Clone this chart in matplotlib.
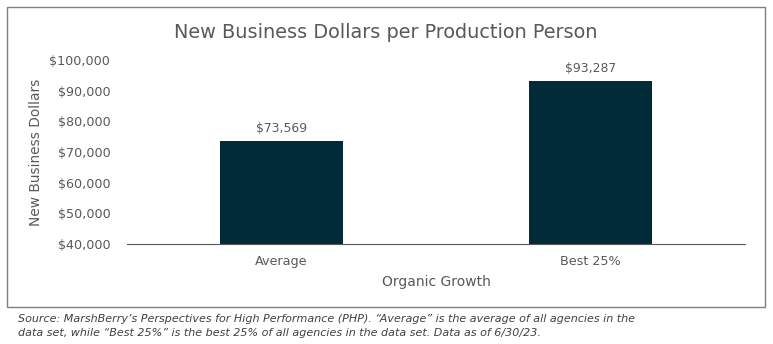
import matplotlib.pyplot as plt
import matplotlib.ticker as mticker
from matplotlib.patches import Rectangle

categories = ["Average", "Best 25%"]
values = [73569, 93287]
y_ticks = [40000, 50000, 60000, 70000, 80000, 90000, 100000]

title = "New Business Dollars per Production Person"
source_note = (
    "Source: MarshBerry\u2019s Perspectives for High Performance (PHP). \u201cAverage\u201d is the average of all agencies in the\n"
    "data set, while \u201cBest 25%\u201d is the best 25% of all agencies in the data set. Data as of 6/30/23."
)

bar_color = "#022b3a"
text_color = "#595959"

W, H = 773, 344
fig = plt.figure(figsize=(W / 100, H / 100), dpi=100)
plt.rcParams["font.family"] = ["DejaVu Sans"]

ax = fig.add_axes([127 / W, 1 - 244 / H, (745 - 127) / W, (244 - 60) / H])

x = list(range(len(categories)))
rects = ax.bar(x, values, width=0.4, color=bar_color, zorder=2)
ax.bar_label(rects, labels=[f"${v:,.0f}" for v in values], padding=4,
             fontsize=8.9, color=text_color)

ax.set_xlim(-0.5, len(categories) - 0.5)
ax.set_ylim(y_ticks[0], y_ticks[-1])
ax.set_yticks(y_ticks)
ax.yaxis.set_major_formatter(mticker.FuncFormatter(lambda v, p: f"${v:,.0f}"))
ax.set_xticks(x, categories)

for s in ["top", "right", "left"]:
    ax.spines[s].set_visible(False)
ax.spines["bottom"].set_color("#595959")
ax.tick_params(axis="both", length=0, labelsize=9.2, colors=text_color)
ax.tick_params(axis="x", pad=8)
ax.tick_params(axis="y", pad=12)

ax.set_xlabel("Organic Growth", fontsize=10, color=text_color, labelpad=5)
ax.set_ylabel("New Business Dollars", fontsize=9.9, color=text_color, labelpad=5)

fig.text(386 / W, 1 - 32 / H, title, ha="center", va="center",
         fontsize=13.9, color=text_color)

fig.patches.append(Rectangle((7 / W, 1 - 307 / H), (765 - 7) / W, 300 / H,
                             transform=fig.transFigure, fill=False,
                             edgecolor="#7f7f7f", linewidth=1))

fig.text(18 / W, 1 - 314 / H, source_note, ha="left", va="top",
         fontsize=8, style="italic", color="#404040", linespacing=1.55)

fig.savefig("out.png", dpi=100)
